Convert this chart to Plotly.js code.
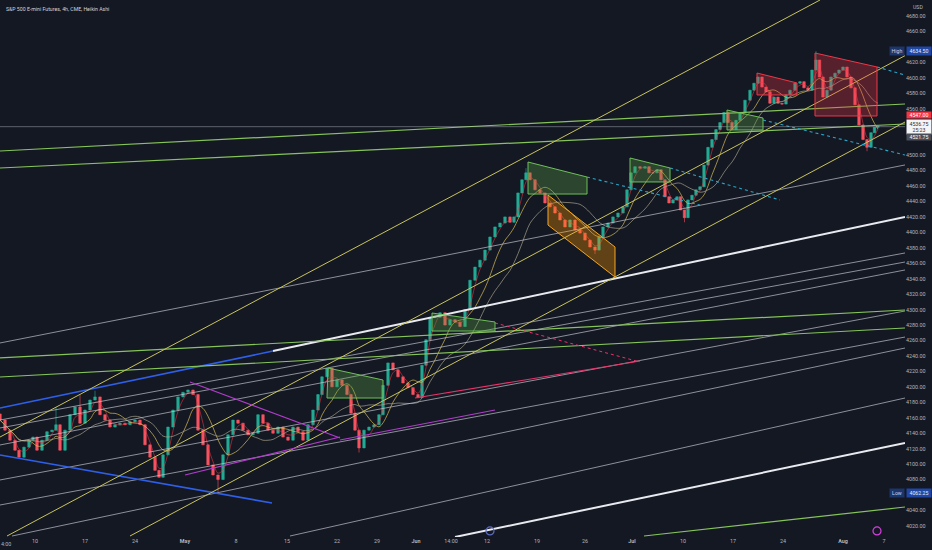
<!DOCTYPE html>
<html><head><meta charset="utf-8">
<script src="https://cdn.plot.ly/plotly-3.0.1.min.js"></script>
<style>html,body{margin:0;padding:0;background:#141823;}#chart{width:932px;height:550px;}</style>
</head><body><div id="chart"></div>
<script>
// ---- candle data (x in trading-day units, prices in points) ----
const barDay = [0,0.5,1,1.5,1.9,2.4,2.9,3.3,3.7,4.2,4.7,5.2,5.6,6,6.5,7,7.5,8,8.5,9,9.5,10,10.5,11,11.5,12,12.5,13,13.5,14,14.5,15,15.5,15.9,16.3,16.8,17.3,17.8,18.3,18.8,19.3,19.8,20.3,20.8,21.3,21.8,22.3,22.8,23.3,23.8,24.3,24.8,25.3,25.8,26.3,26.8,27.3,27.8,28.3,28.8,29.3,29.8,30.3,30.8,31.3,31.8,32.2,32.7,33.2,33.7,34.2,34.7,35.1,35.5,35.9,36.4,36.9,37.4,37.9,38.3,38.8,39.3,39.8,40.3,40.8,41.3,41.8,42.2,42.6,43,43.5,44,44.5,45,45.5,46,46.5,47,47.5,48,48.5,49,49.5,50,50.5,51,51.4,51.8,52.2,52.6,53,53.5,54,54.5,55,55.5,56,56.5,57,57.5,58,58.5,59,59.5,59.9,60.3,60.8,61.3,61.8,62.3,62.7,63.1,63.5,64,64.5,64.9,65.3,65.7,66.1,66.5,66.9,67.3,67.7,68.05,68.45,68.8,69.2,69.6,70,70.4,70.8,71.2,71.6,72,72.4,72.8,73.2,73.6,74,74.5,75,75.4,75.8,76.2,76.6,77,77.4,77.8,78.2,78.6,79,79.5,80,80.4,80.8,81.2,81.6,81.95,82.3,82.7,83.1,83.5,83.9,84.3,84.7,85.1,85.5,85.9,86.3,86.7,87.1,87.45,87.8];
const closes = [4157,4144,4131,4118,4109,4122,4131,4135,4118,4131,4142,4144,4151,4118,4144,4164,4174,4153,4170,4183,4187,4164,4157,4148,4151,4153,4151,4155,4157,4151,4125,4109,4092,4083,4112,4148,4170,4187,4193,4196,4190,4144,4125,4099,4086,4080,4112,4138,4157,4153,4144,4138,4140,4164,4153,4144,4140,4148,4135,4131,4148,4142,4131,4151,4170,4190,4213,4224,4200,4209,4202,4190,4166,4144,4121,4144,4148,4151,4164,4202,4231,4222,4213,4205,4199,4190,4186,4228,4261,4290,4290,4296,4280,4287,4284,4278,4300,4338,4355,4364,4377,4394,4407,4412,4420,4413,4420,4451,4468,4477,4468,4455,4451,4438,4433,4425,4416,4407,4416,4403,4399,4390,4381,4377,4394,4407,4412,4420,4425,4433,4455,4477,4485,4483,4485,4477,4477,4481,4468,4446,4438,4442,4446,4429,4419,4442,4448,4455,4459,4487,4510,4520,4533,4542,4555,4542,4533,4545,4555,4571,4584,4593,4601,4588,4582,4567,4575,4567,4566,4578,4584,4593,4595,4587,4584,4610,4623,4601,4575,4584,4601,4606,4610,4614,4601,4587,4565,4539,4520,4510,4529,4536,4536.75];
const firstOpen = 4165;
const wickDay   = [5.6, 52.6, 81.6, 21.8, 35.9, 59.5, 68.45, 86.7, 7.8, 9.5];
const wickPrice = [4174, 4483, 4634.5, 4062.25, 4115, 4372, 4413, 4505, 4190, 4195];
const maWindows = [3, 7, 14];
const maColors  = ['rgba(242,54,69,0.8)', '#d9bd55', '#a5a188'];

// ---- axis ticks ----
const xTickDay  = [3.5,8.5,13.5,18.5,23.6,28.7,33.7,37.7,41.6,45.1,48.7,53.7,58.5,63.2,68.3,73.3,78.3,84.3,88.4];
const xTickText = ['10','17','24','<b>May</b>','8','15','22','29','<b>Jun</b>','14:00','12','19','26','<b>Jul</b>','10','17','24','<b>Aug</b>','7'];
const edgeTickDay = 0, edgeTickText = '4:00';
const yTicks = [4020,4040,4080,4100,4120,4140,4160,4180,4200,4220,4240,4260,4280,4300,4320,4340,4360,4380,4400,4420,4440,4460,4480,4500,4560,4580,4600,4620,4660,4680];

// ---- drawings: segments [x0, p0, x1, p1] ----
const yellowSeg = [[0,4135.1,82.0,4700.7],[0.7,4007.0,90.5,4628.7],[13.0,4007.0,90.5,4542.8]];
const greenSeg  = [[0,4505.3,90.5,4566.1],[0,4483.3,90.5,4540.2],[0,4237.4,90.5,4299.5],[0,4212.8,90.5,4276.2],[64.4,4007.0,90.5,4044.5]];
const blueSeg   = [[0,4172.7,27.3,4246.4],[0,4111.8,27.2,4049.7]];
const whiteSeg  = [[27.3,4246.4,90.5,4419.9],[45.5,4005.7,90.5,4127.4]];
const graySeg   = [[0,4256.8,90.5,4487.2],[0,4157.1,90.5,4373.3],[0,4146.8,90.5,4361.6],[0,4124.8,90.5,4351.3],[0,4079.5,90.5,4298.2],[0,4047.1,90.5,4264.5],[1.2,4007.0,90.5,4250.3],[29.0,4007.0,90.5,4185.6]];
const purpleSeg = [[19.0,4206.3,34.0,4133.8],[18.5,4086.0,34.0,4135.1],[34.0,4131.3,49.5,4170.1]];
const pinkSeg   = [[41.5,4185.6,64.0,4233.5]];
const pinkDotSeg = [[49.5,4282.7,64.0,4232.2]];
const tealDotSeg = [[58.7,4471.6,70.0,4435.4],[67.0,4483.3,78.0,4441.9],[76.3,4545.4,90.5,4500.1],[87.7,4614.0,90.5,4603.6]];
const lastPrice = 4536.75;

// ---- filled drawings (polygons) ----
const greenBoxX = [[32.8,38.3,38.3,32.7],[43.2,49.5,49.5,43.2],[52.8,58.7,58.7,52.8],[63.0,67.0,67.0,63.0],[72.7,76.3,76.3,72.7]];
const greenBoxY = [[4224.4,4208.9,4185.6,4185.6],[4295.6,4284.0,4272.3,4272.3],[4491.0,4471.6,4449.6,4449.6],[4496.2,4483.3,4465.2,4465.2],[4558.3,4548.0,4532.5,4532.5]];
const orangeBoxX = [[54.8,61.5,61.5,54.8]];
const orangeBoxY = [[4448.3,4381.0,4342.2,4409.5]];
const redBoxX = [[75.7,79.7,79.7,75.7],[81.5,87.7,87.7,81.5]];
const redBoxY = [[4606.2,4593.3,4577.8,4577.8],[4632.1,4614.0,4550.6,4550.6]];

// ---- price tags on the scale ----
const highPrice = 4634.5, lowPrice = 4062.25, alertPrice = 4547.0, prevPrice = 4521.75;
const countdown = '25:23';
const eventDay = [49.0, 87.7];
const eventPrice = [4013.5, 4013.5];
const eventColor = ['#5c6bc0', '#d63fe0'];

// ---------------------------------------------------------------
const FONT = 'Roboto, "Noto Sans", sans-serif';
const opens = closes.map((c,i)=> i===0 ? firstOpen : closes[i-1]);
const highs = closes.map((c,i)=> Math.max(c, opens[i]));
const lows  = closes.map((c,i)=> Math.min(c, opens[i]));
wickDay.forEach((d,k)=>{
  let best = 0;
  barDay.forEach((x,i)=>{ if (Math.abs(x-d) < Math.abs(barDay[best]-d)) best = i; });
  if (wickPrice[k] > highs[best]) highs[best] = wickPrice[k];
  if (wickPrice[k] < lows[best]) lows[best] = wickPrice[k];
});
function sma(arr,n){ return arr.map((v,i)=>{ const w = arr.slice(Math.max(0,i-n+1), i+1); return w.reduce((a,b)=>a+b,0)/w.length; }); }
function segTrace(segs, color, width, dash){
  const x=[], y=[];
  segs.forEach(s=>{ x.push(s[0], s[2], null); y.push(s[1], s[3], null); });
  return {type:'scatter', mode:'lines', x, y, line:{color, width, dash: dash||'solid'}, hoverinfo:'skip', connectgaps:false};
}
function polyTraces(xs, ys, fill, line){
  return xs.map((px,i)=>({type:'scatter', mode:'lines', x:px.concat([px[0]]), y:ys[i].concat([ys[i][0]]), fill:'toself', fillcolor:fill, line:{color:line, width:1}, hoverinfo:'skip'}));
}

const traces = [];
traces.push({type:'candlestick', x:barDay, open:opens, high:highs, low:lows, close:closes,
  increasing:{line:{color:'#22ab94', width:0.6}, fillcolor:'#22ab94'},
  decreasing:{line:{color:'#f7525f', width:0.6}, fillcolor:'#f7525f'},
  whiskerwidth:0, hoverinfo:'skip'});
maWindows.forEach((n,k)=> traces.push({type:'scatter', mode:'lines', x:barDay, y:sma(closes,n), line:{color:maColors[k], width:0.7, shape:'spline'}, hoverinfo:'skip'}));
traces.push(segTrace(graySeg, 'rgba(200,203,210,0.75)', 0.9));
traces.push(segTrace(whiteSeg, '#e8eaef', 2));
traces.push(segTrace(blueSeg, '#2f5fe8', 1.6));
traces.push(segTrace(greenSeg, '#86c45a', 1.2));
traces.push(segTrace(yellowSeg, '#c9c45c', 1));
traces.push(segTrace(purpleSeg, '#b23ccc', 1.1));
traces.push(segTrace(pinkSeg, '#e8336a', 1.1));
traces.push(segTrace(pinkDotSeg, '#e8336a', 1, 'dot'));
traces.push(segTrace(tealDotSeg, '#2aa6c8', 1.1, 'dot'));
traces.push({type:'scatter', mode:'lines', x:[0,90.5], y:[lastPrice,lastPrice], line:{color:'rgba(190,192,200,0.55)', width:0.8}, hoverinfo:'skip'});
polyTraces(greenBoxX, greenBoxY, 'rgba(92,160,70,0.33)', '#6fbf5a').forEach(t=>traces.push(t));
polyTraces(orangeBoxX, orangeBoxY, 'rgba(255,152,0,0.33)', '#f5a623').forEach(t=>traces.push(t));
polyTraces(redBoxX, redBoxY, 'rgba(242,54,69,0.30)', '#f23645').forEach(t=>traces.push(t));
traces.push({type:'scatter', mode:'markers', x:eventDay, y:eventPrice, cliponaxis:false,
  marker:{symbol:'circle-open', size:8, color:eventColor, line:{width:1.2, color:eventColor}}, hoverinfo:'skip'});

const tagFont = (c)=>({family:FONT, size:5.2, color:c});
const annotations = [
  {xref:'paper', yref:'paper', x:0, y:1, xanchor:'left', yanchor:'middle', xshift:4, yshift:-9, showarrow:false,
   text:'S&P 500 E-mini Futures, 4h, CME, Heikin Ashi', font:{family:FONT, size:5.2, color:'#d1d4dc'}},
  {xref:'paper', yref:'paper', x:1, y:1, xanchor:'left', yanchor:'middle', xshift:6, yshift:-7, showarrow:false,
   text:'USD', font:tagFont('#b2b5be')},
  {xref:'x', yref:'paper', x:edgeTickDay, y:0, xanchor:'left', yanchor:'middle', yshift:-7, showarrow:false,
   text:edgeTickText, font:{family:FONT, size:5.4, color:'#b2b5be'}, borderpad:0},
  {xref:'paper', yref:'y', x:1, y:highPrice, xanchor:'right', showarrow:false, text:'High', width:14, height:8,
   bgcolor:'#1c356b', font:tagFont('#c9d3ee'), borderpad:0},
  {xref:'paper', yref:'y', x:1, y:highPrice, xanchor:'left', xshift:1, showarrow:false, text:highPrice.toFixed(2), width:24, height:8,
   bgcolor:'#1f47a3', font:tagFont('#e6ebf7'), borderpad:0},
  {xref:'paper', yref:'y', x:1, y:lowPrice, xanchor:'right', showarrow:false, text:'Low', width:14, height:8,
   bgcolor:'#1c356b', font:tagFont('#c9d3ee'), borderpad:0},
  {xref:'paper', yref:'y', x:1, y:lowPrice, xanchor:'left', xshift:1, showarrow:false, text:lowPrice.toFixed(2), width:24, height:8,
   bgcolor:'#1f47a3', font:tagFont('#e6ebf7'), borderpad:0},
  {xref:'paper', yref:'y', x:1, y:lastPrice, yanchor:'bottom', yshift:7.6, xanchor:'left', xshift:1, showarrow:false,
   text:alertPrice.toFixed(2), width:24, height:6.4, bgcolor:'#f23645', font:tagFont('#ffffff'), borderpad:0},
  {xref:'paper', yref:'y', x:1, y:lastPrice, yanchor:'top', yshift:7.6, xanchor:'left', xshift:1, showarrow:false,
   text:lastPrice.toFixed(2)+'<br>'+countdown, width:24, height:14,
   bgcolor:'#f4f5f7', font:tagFont('#2a2e39'), borderpad:0},
  {xref:'paper', yref:'y', x:1, y:lastPrice, yanchor:'top', yshift:-6.4, xanchor:'left', xshift:1, showarrow:false,
   text:prevPrice.toFixed(2), width:24, height:6.4, bgcolor:'#4a4e59', font:tagFont('#ffffff'), borderpad:0}
];

const layout = {
  width:932, height:550,
  paper_bgcolor:'#141823', plot_bgcolor:'#141823',
  margin:{l:0, r:27, t:0, b:13},
  showlegend:false, hovermode:false, dragmode:false, boxgap:0,
  xaxis:{range:[0,90.5], tickmode:'array', tickvals:xTickDay, ticktext:xTickText, showgrid:false, zeroline:false,
    showline:false, ticks:'', rangeslider:{visible:false}, fixedrange:true,
    tickfont:{family:FONT, size:5.4, color:'#b2b5be'}},
  yaxis:{range:[4005.7,4700.7], side:'right', tickmode:'array', tickvals:yTicks, tickformat:'.2f',
    showgrid:false, zeroline:false, showline:false, ticks:'', fixedrange:true,
    tickfont:{family:FONT, size:5.4, color:'#b2b5be'}},
  annotations
};
Plotly.newPlot('chart', traces, layout, {staticPlot:true, displayModeBar:false});
</script></body></html>
